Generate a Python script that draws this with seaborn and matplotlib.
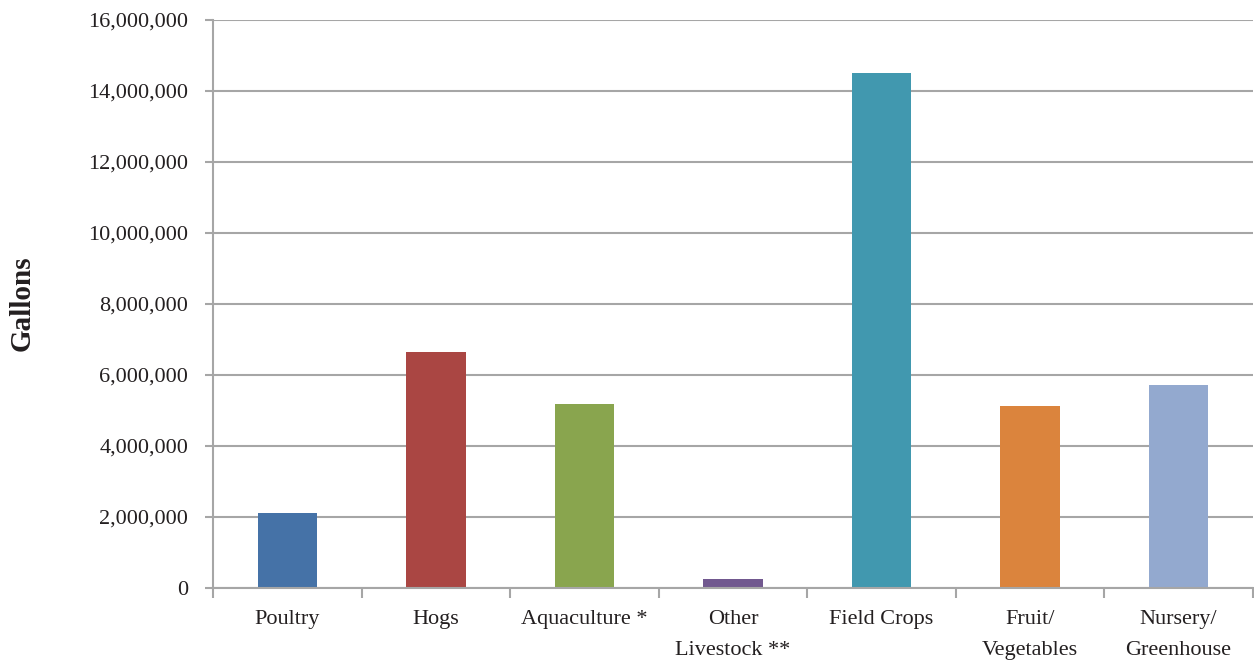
import numpy as np
import pandas as pd
import matplotlib.pyplot as plt
import matplotlib.ticker as mticker
import seaborn as sns

categories = ["Poultry", "Hogs", "Aquaculture *", "Other\nLivestock **",
              "Field Crops", "Fruit/\nVegetables", "Nursery/\nGreenhouse"]
gallons = [2100000, 6650000, 5180000, 250000, 14500000, 5130000, 5720000]
colors = ["#4572A7", "#AA4643", "#89A54E", "#71588F",
          "#4198AF", "#DB843D", "#93A9CF"]

df = pd.DataFrame({"category": categories, "gallons": gallons})

sns.set_theme(style="white")
plt.rcParams["font.family"] = ["Liberation Serif", "DejaVu Serif"]

fig = plt.figure(figsize=(12.54, 6.62), dpi=100)
ax = fig.add_axes([0.170, 0.112, 0.829, 0.858])

sns.barplot(data=df, x="category", y="gallons", hue="category",
            palette=colors, width=0.4, legend=False, ax=ax, saturation=1,
            linewidth=0, edgecolor="none")

ax.set_ylim(0, 16000000)
ax.set_xlim(-0.5, len(categories) - 0.5)
ax.yaxis.set_major_locator(mticker.MultipleLocator(2000000))
ax.yaxis.set_major_formatter(mticker.FuncFormatter(lambda v, p: f"{int(v):,}"))
ax.yaxis.grid(True, color="#A6A6A6", linewidth=1.5)
ax.set_axisbelow(True)

for s in ["top", "right"]:
    ax.spines[s].set_visible(False)
for s in ["left", "bottom"]:
    ax.spines[s].set_color("#A6A6A6")
    ax.spines[s].set_linewidth(1.5)

ax.tick_params(axis="y", which="major", left=True, length=6, width=1.5,
               color="#A6A6A6", labelsize=16, labelcolor="#231F20", pad=12)
ax.tick_params(axis="x", which="major", bottom=True, length=0, labelsize=16,
               labelcolor="#231F20", pad=16)
ax.xaxis.set_minor_locator(mticker.FixedLocator(np.arange(-0.5, len(categories), 1.0)))
ax.tick_params(axis="x", which="minor", bottom=True, length=7, width=1.5,
               color="#A6A6A6", direction="out")
for lbl in ax.get_xticklabels():
    lbl.set_linespacing(1.85)

ax.set_xlabel("")
ax.set_ylabel("")
fig.text(22 / 1254, 1 - 303 / 662, "Gallons", rotation=90, ha="center",
         va="center", fontsize=21, fontweight="bold", color="#231F20")

fig.savefig("out.png", dpi=100)
